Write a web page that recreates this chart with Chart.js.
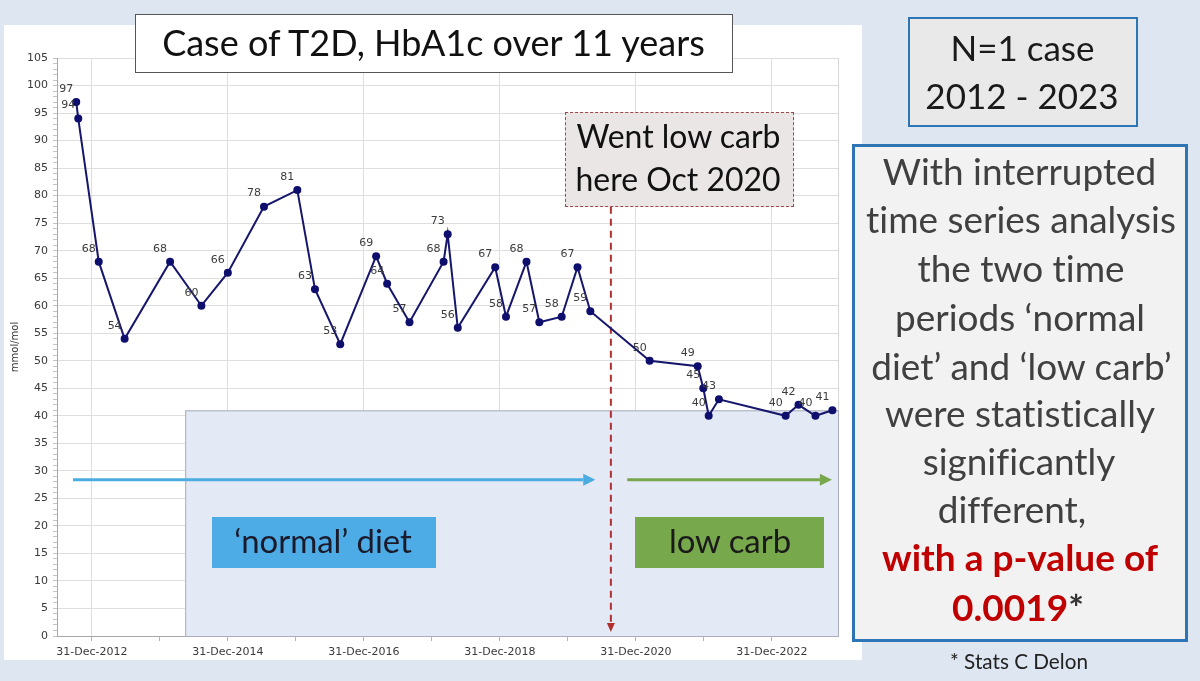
<!DOCTYPE html>
<html>
<head>
<meta charset="utf-8">
<script src="https://cdn.jsdelivr.net/npm/chart.js@4.4.1/dist/chart.umd.min.js"></script>
<style>
  body { margin: 0; width: 1200px; height: 681px; background: #dde6f1; position: relative; overflow: hidden; font-family: Lato, "Open Sans", sans-serif; }
  #chart { position: absolute; left: 4px; top: 25px; background: #fff; }
  .box { position: absolute; box-sizing: border-box; }
  .txt { position: absolute; width: 800px; text-align: center; white-space: nowrap; font-family: Lato, "Open Sans", sans-serif; }
</style>
</head>
<body>
<canvas id="chart" width="858" height="635"></canvas>

<div class="box" style="left:135px;top:14px;width:598px;height:59px;background:#fff;border:1.5px solid #555;"></div>
<div class="box" style="left:565px;top:112px;width:229px;height:95px;background:#e9e6e5;border:1.5px dashed #a04646;"></div>
<div class="box" style="left:212px;top:517px;width:224px;height:51px;background:#4dabe6;"></div>
<div class="box" style="left:635px;top:517px;width:189px;height:51px;background:#78a84c;"></div>
<div class="box" style="left:908px;top:17px;width:230px;height:110px;background:#e9e9e9;border:2.5px solid #2e75b6;"></div>
<div class="box" style="left:852px;top:144px;width:336px;height:498px;background:#f2f2f2;border:3px solid #2e75b6;"></div>

<script>
// HbA1c results (mmol/mol)
var visitDates = ['2012-10-08', '2012-10-19', '2013-02-06', '2013-06-25', '2014-02-24', '2014-08-11',
  '2014-12-31', '2015-07-13', '2016-01-08', '2016-04-12', '2016-08-26', '2017-03-07', '2017-05-05',
  '2017-09-02', '2018-03-04', '2018-03-26', '2018-05-19', '2018-12-06', '2019-02-02', '2019-05-23',
  '2019-07-31', '2019-11-28', '2020-02-21', '2020-04-30', '2021-03-15', '2021-11-28', '2021-12-28',
  '2022-01-26', '2022-03-22', '2023-03-15', '2023-05-23', '2023-08-22', '2023-11-21'];
var hba1c = [97, 94, 68, 54, 68, 60, 66, 78, 81, 63, 53, 69, 64, 57, 68, 73, 56, 67, 58, 68, 57, 58, 67, 59,
  50, 49, 45, 40, 43, 40, 42, 40, 41];
var xTickLabels = ['31-Dec-2012', '31-Dec-2014', '31-Dec-2016', '31-Dec-2018', '31-Dec-2020', '31-Dec-2022'];
var yMax = 105;

// annotation spans, in decimal years / mmol/mol
var shadeFrom = 2014.37, shadeTop = 41;
var arrowLevel = 28.4;
var normalSpan = [2012.72, 2020.40];
var lowCarbSpan = [2020.87, 2023.88];
var switchYear = 2020.63, switchTop = 78;

var months = { Jan: 0, Feb: 1, Mar: 2, Apr: 3, May: 4, Jun: 5, Jul: 6, Aug: 7, Sep: 8, Oct: 9, Nov: 10, Dec: 11 };

function decYear(y, m, d) {
  var start = Date.UTC(y, 0, 1), end = Date.UTC(y + 1, 0, 1);
  return y + (Date.UTC(y, m, d) - start) / (end - start);
}
function isoYear(s) {
  var p = s.split('-');
  return decYear(+p[0], +p[1] - 1, +p[2]);
}
function labelYear(s) {
  var p = s.split('-');
  return decYear(+p[2], months[p[1]], +p[0]);
}

// x ticks: 31-Dec of every year, labels on the even ones
var firstYr = +xTickLabels[0].split('-')[2], lastYr = +xTickLabels[xTickLabels.length - 1].split('-')[2];
var xTicks = [];
for (var yr = firstYr; yr <= lastYr; yr++) {
  var lab = '31-Dec-' + yr;
  xTicks.push({ value: labelYear(lab), label: xTickLabels.indexOf(lab) >= 0 ? lab : '' });
}
function xLabelFor(v) {
  for (var i = 0; i < xTicks.length; i++) if (Math.abs(xTicks[i].value - v) < 1e-6) return xTicks[i].label;
  return '';
}

var points = visitDates.map(function (d, i) { return { x: isoYear(d), y: hba1c[i] }; });

function arrow(c, x1, x2, y, color, width, head) {
  c.strokeStyle = color; c.fillStyle = color; c.lineWidth = width;
  c.beginPath(); c.moveTo(x1, y); c.lineTo(x2 - head, y); c.stroke();
  c.beginPath(); c.moveTo(x2, y); c.lineTo(x2 - head, y - head / 2); c.lineTo(x2 - head, y + head / 2); c.closePath(); c.fill();
}

var annotations = {
  id: 'annotations',
  beforeDatasetsDraw: function (chart) {
    var c = chart.ctx, xs = chart.scales.x, ys = chart.scales.y, a = chart.chartArea;
    c.save();
    // right edge of the plot
    c.strokeStyle = '#d6d6d6'; c.lineWidth = 1;
    c.beginPath(); c.moveTo(a.right + 0.5, a.top); c.lineTo(a.right + 0.5, a.bottom); c.stroke();
    // shaded period box
    var x0 = xs.getPixelForValue(shadeFrom), y0 = ys.getPixelForValue(shadeTop);
    c.fillStyle = '#e4e9f6';
    c.fillRect(x0, y0, a.right - x0, a.bottom - y0);
    c.strokeStyle = '#a9adbd';
    c.strokeRect(x0 + 0.5, y0 + 0.5, a.right - x0, a.bottom - y0);
    // period arrows
    var ay = ys.getPixelForValue(arrowLevel);
    arrow(c, xs.getPixelForValue(normalSpan[0]), xs.getPixelForValue(normalSpan[1]), ay, '#4aace0', 3, 12);
    arrow(c, xs.getPixelForValue(lowCarbSpan[0]), xs.getPixelForValue(lowCarbSpan[1]), ay, '#77a64b', 3, 12);
    // switch to low carb
    var sx = xs.getPixelForValue(switchYear), tip = ys.getPixelForValue(0) - 4;
    c.strokeStyle = '#b03030'; c.fillStyle = '#b03030'; c.lineWidth = 2;
    c.setLineDash([7, 5]);
    c.beginPath(); c.moveTo(sx, ys.getPixelForValue(switchTop)); c.lineTo(sx, tip - 8); c.stroke();
    c.setLineDash([]);
    c.beginPath(); c.moveTo(sx, tip); c.lineTo(sx - 4, tip - 9); c.lineTo(sx + 4, tip - 9); c.closePath(); c.fill();
    c.restore();
  },
  afterDatasetsDraw: function (chart) {
    var c = chart.ctx, meta = chart.getDatasetMeta(0);
    c.save();
    c.font = '11px "DejaVu Sans"';
    c.fillStyle = '#3c3c3c';
    c.textAlign = 'center';
    c.textBaseline = 'middle';
    meta.data.forEach(function (p, i) {
      c.fillText(hba1c[i], p.x - 10, p.y - 13);
    });
    c.restore();
  }
};

var axisFont = { family: 'DejaVu Sans', size: 11 };

new Chart(document.getElementById('chart'), {
  type: 'line',
  data: {
    datasets: [{
      data: points,
      borderColor: '#16166c',
      backgroundColor: '#0e0e6c',
      borderWidth: 2,
      pointRadius: 4,
      pointBorderWidth: 0,
      tension: 0
    }]
  },
  options: {
    responsive: false,
    animation: false,
    layout: { padding: { top: 33, right: 24, left: 0, bottom: 0 } },
    plugins: { legend: { display: false }, tooltip: { enabled: false } },
    scales: {
      x: {
        type: 'linear',
        min: 2012.485,
        max: 2023.97,
        afterBuildTicks: function (scale) { scale.ticks = xTicks.map(function (t) { return { value: t.value }; }); },
        afterFit: function (scale) { scale.height = 24; },
        ticks: {
          autoSkip: false, maxRotation: 0, padding: 5, color: '#3a3a3a', font: axisFont,
          callback: function (v) { return xLabelFor(v); }
        },
        grid: {
          color: function (ctx) { return ctx.tick && xLabelFor(ctx.tick.value) ? '#dedede' : 'rgba(0,0,0,0)'; },
          tickColor: '#b4b4b4', tickLength: 5
        },
        border: { color: '#a8a8a8' }
      },
      y: {
        min: 0,
        max: yMax,
        afterBuildTicks: function (scale) {
          var t = [];
          for (var v = 0; v <= yMax; v++) t.push({ value: v });
          scale.ticks = t;
        },
        afterFit: function (scale) { scale.width = 53; },
        ticks: {
          autoSkip: false, padding: 5, color: '#3a3a3a', font: axisFont,
          callback: function (v) { return v % 5 === 0 ? v : ''; }
        },
        grid: {
          color: function (ctx) { return ctx.tick && ctx.tick.value % 5 === 0 ? '#dedede' : 'rgba(0,0,0,0)'; },
          tickColor: '#c4c4c4', tickLength: 4
        },
        border: { color: '#a8a8a8' },
        title: { display: true, text: 'mmol/mol', color: '#333', font: { family: 'DejaVu Sans', size: 10 }, padding: { top: 5, bottom: 0 } }
      }
    }
  },
  plugins: [annotations]
});

// slide text: lines fitted to their width in the picture, lines of one group share the mean size
var textLines = [
  { t: 'Case of T2D, HbA1c over 11 years', cx: 433.5, by: 57, w: 543, color: '#111' },
  { t: 'Went low carb', cx: 678.5, by: 149, w: 205, color: '#111', g: 'went' },
  { t: 'here Oct 2020', cx: 678, by: 192, w: 204, color: '#111', g: 'went' },
  { t: '\u2018normal\u2019 diet', cx: 323, by: 553, w: 181, color: '#1a1a2a', g: 'diet' },
  { t: 'low carb', cx: 730, by: 553, w: 120, color: '#1a1a1a', g: 'diet' },
  { t: 'N=1 case', cx: 1022.5, by: 61, w: 145, color: '#1a1a1a', g: 'n' },
  { t: '2012 - 2023', cx: 1022, by: 109, w: 192, color: '#1a1a1a', g: 'n' },
  { t: 'With interrupted', cx: 1019.5, by: 185, w: 275, color: '#404040', g: 'body' },
  { t: 'time series analysis', cx: 1021, by: 233, w: 312, color: '#404040', g: 'body' },
  { t: 'the two time', cx: 1021, by: 282, w: 209, color: '#404040', g: 'body' },
  { t: 'periods \u2018normal', cx: 1020, by: 331, w: 256, color: '#404040', g: 'body' },
  { t: 'diet\u2019 and \u2018low carb\u2019', cx: 1021.5, by: 380, w: 313, color: '#404040', g: 'body' },
  { t: 'were statistically', cx: 1020, by: 427, w: 270, color: '#404040', g: 'body' },
  { t: 'significantly', cx: 1019, by: 475, w: 195, color: '#404040', g: 'body' },
  { t: 'different,', cx: 1012, by: 523, w: 171, color: '#404040', g: 'body' },
  { t: 'with a p-value of', cx: 1020, by: 572, w: 280, color: '#c00000', bold: true, g: 'red' },
  { t: '0.0019*', html: '0.0019<span style="color:#333">*</span>', cx: 1018, by: 622, w: 130, color: '#c00000', bold: true, g: 'red' },
  { t: '* Stats C Delon', cx: 1019, by: 669, w: 138, color: '#222' }
];
var groupScale = { body: 0.97 };

var groups = {};
textLines.forEach(function (s) {
  var el = document.createElement('div');
  el.className = 'txt';
  var inner = document.createElement('span');
  inner.innerHTML = s.html || s.t;
  el.appendChild(inner);
  el.style.fontWeight = s.bold ? '700' : '400';
  el.style.fontVariantLigatures = 'none';
  el.style.fontSize = '100px';
  el.style.visibility = 'hidden';
  document.body.appendChild(el);
  s.el = el;
  s.size = 100 * s.w / inner.getBoundingClientRect().width;
  if (s.g) (groups[s.g] = groups[s.g] || []).push(s.size);
});
textLines.forEach(function (s) {
  var size = s.size;
  if (s.g) size = groups[s.g].reduce(function (a, b) { return a + b; }, 0) / groups[s.g].length * (groupScale[s.g] || 1);
  var el = s.el;
  el.style.fontSize = size.toFixed(2) + 'px';
  el.style.lineHeight = (size * 1.2).toFixed(2) + 'px';
  el.style.left = (s.cx - 400) + 'px';
  el.style.top = (s.by - 0.987 * size).toFixed(2) + 'px';
  el.style.color = s.color;
  el.style.visibility = 'visible';
});
</script>
</body>
</html>
